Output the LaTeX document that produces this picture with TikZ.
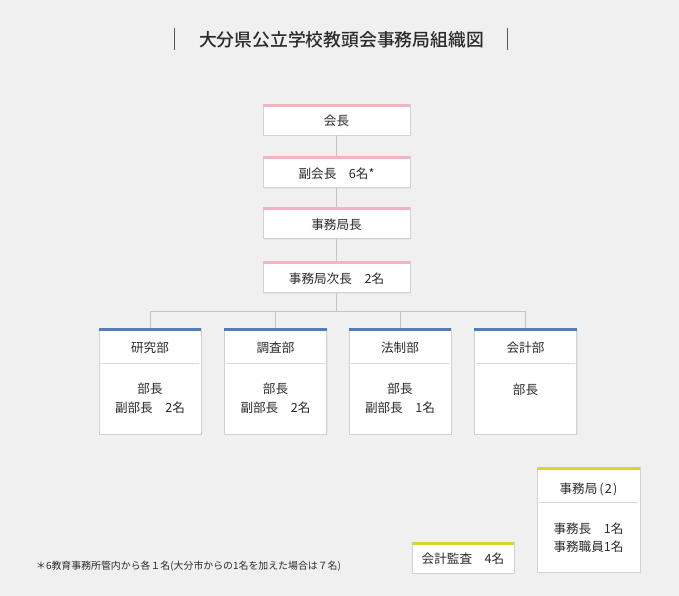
\documentclass[tikz,border=0pt]{standalone}
\usepackage{fontspec}
\newfontfamily\jp{Noto Sans CJK JP}
\newfontfamily\jpm{Noto Sans CJK JP Medium}
\usetikzlibrary{calc,shadows}
\definecolor{bg}{HTML}{F0F0F0}
\definecolor{boxline}{HTML}{D2D2D2}
\definecolor{conn}{HTML}{C4C4C4}
\definecolor{txt}{HTML}{2A2A2A}
\definecolor{pinkb}{HTML}{F2B5BF}
\definecolor{blueb}{HTML}{4F7DB8}
\definecolor{yellowb}{HTML}{D9D62A}
\definecolor{sep}{HTML}{D8D8D8}
\begin{document}
\begin{tikzpicture}[x=1pt,y=-1pt,
  boxbase/.style={draw=boxline, fill=white, line width=0.7pt, inner sep=0pt,
    drop shadow={shadow xshift=1pt, shadow yshift=-1pt, fill=black!12, opacity=0.6}},
  rolebox/.style={boxbase, minimum width=147pt, minimum height=31pt},
  deptbox/.style={boxbase, minimum width=102pt, minimum height=106pt},
  officebox/.style={boxbase, minimum width=103pt, minimum height=105pt},
  auditbox/.style={boxbase, minimum width=102pt, minimum height=31pt},
  label/.style={font=\jp\fontsize{12.6}{15}\selectfont, text=txt, inner sep=0pt},
  twoline/.style={label, align=center, font=\jp\fontsize{12.6}{19}\selectfont},
  conline/.style={draw=conn, line width=0.8pt},
  sepline/.style={draw=sep, line width=0.8pt}
]
\useasboundingbox[fill=bg] (0,0) rectangle (679,596);

% title
\node[font=\jpm\fontsize{17.8}{20}\selectfont, text=txt, inner sep=0pt] (title) at (341.5,40) {大分県公立学校教頭会事務局組織図};
\coordinate (tl1) at (174,28); \coordinate (tl2) at (174,50);
\coordinate (tr1) at (507,28); \coordinate (tr2) at (507,50);
\draw[line width=1pt, draw=txt!80] (tl1) -- (tl2);
\draw[line width=1pt, draw=txt!80] (tr1) -- (tr2);

% role boxes
\node[rolebox] (kaicho) at (336.5,119.5) {};
\node[rolebox] (fuku) at (336.5,172) {};
\node[rolebox] (jimu) at (336.5,223) {};
\node[rolebox] (jiji) at (336.5,277) {};
\foreach \n in {kaicho,fuku,jimu,jiji}{
  \fill[pinkb] (\n.north west) rectangle ($(\n.north east)+(0,3)$);
}
\node[label] (t1) at ($(kaicho)+(0,1.5)$) {会長};
\node[label] (t2) at ($(fuku)+(0,1.5)$) {副会長\hspace{1em}6名*};
\node[label] (t3) at ($(jimu)+(0,1.5)$) {事務局長};
\node[label] (t4) at ($(jiji)+(0,1.5)$) {事務局次長\hspace{1em}2名};

% connectors
\draw[conline] (kaicho.south) -- (fuku.north);
\draw[conline] (fuku.south) -- (jimu.north);
\draw[conline] (jimu.south) -- (jiji.north);

% departments
\node[deptbox] (kenkyu) at (150,381) {};
\node[deptbox] (chosa) at (275.5,381) {};
\node[deptbox] (hosei) at (400,381) {};
\node[deptbox] (kaikei) at (525.5,381) {};
\coordinate (bus) at (336.5,311);
\coordinate (b1) at (kenkyu.north |- bus);
\coordinate (b2) at (chosa.north |- bus);
\coordinate (b3) at (hosei.north |- bus);
\coordinate (b4) at (kaikei.north |- bus);
\draw[conline] (jiji.south) -- (bus);
\draw[conline] (b1) -- (b4);
\draw[conline] (b1) -- (kenkyu.north);
\draw[conline] (b2) -- (chosa.north);
\draw[conline] (b3) -- (hosei.north);
\draw[conline] (b4) -- (kaikei.north);
\foreach \n in {kenkyu,chosa,hosei,kaikei}{
  \fill[blueb] (\n.north west) rectangle ($(\n.north east)+(0,3)$);
  \draw[sepline] ($(\n.north west)+(2,36)$) -- ($(\n.north east)+(-2,36)$);
}
\node[label] (h1) at ($(kenkyu.north)+(0,20)$) {研究部};
\node[label] (h2) at ($(chosa.north)+(0,20)$) {調査部};
\node[label] (h3) at ($(hosei.north)+(0,20)$) {法制部};
\node[label] (h4) at ($(kaikei.north)+(0,20)$) {会計部};
\node[twoline] (d1) at ($(kenkyu.north)+(0,71)$) {部長\\副部長\hspace{1em}2名};
\node[twoline] (d2) at ($(chosa.north)+(0,71)$) {部長\\副部長\hspace{1em}2名};
\node[twoline] (d3) at ($(hosei.north)+(0,71)$) {部長\\副部長\hspace{1em}1名};
\node[label] (d4) at ($(kaikei.north)+(0,62)$) {部長};

% office
\node[officebox] (office) at (588.5,519.5) {};
\fill[yellowb] (office.north west) rectangle ($(office.north east)+(0,3)$);
\draw[sepline] ($(office.north west)+(2,36)$) -- ($(office.north east)+(-2,36)$);
\node[label] (oh) at ($(office.north)+(0,23)$) {事務局\hspace{0.15em}(\hspace{0.1em}2\hspace{0.1em})};
\node[label, align=left, font=\jp\fontsize{12.6}{18}\selectfont] (ob) at ($(office.north)+(0,71)$) {事務長\hspace{1em}1名\\事務職員1名};

% audit
\node[auditbox] (audit) at (463,557.5) {};
\fill[yellowb] (audit.north west) rectangle ($(audit.north east)+(0,3)$);
\node[label] (at) at ($(audit.center)+(0,1.5)$) {会計監査\hspace{1em}4名};

% footnote
\node[anchor=west, font=\jp\fontsize{9.9}{11}\selectfont, text=txt, inner sep=0pt] (note) at (36,566) {＊6教育事務所管内から各１名(大分市からの1名を加えた場合は７名)};
\end{tikzpicture}
\end{document}
